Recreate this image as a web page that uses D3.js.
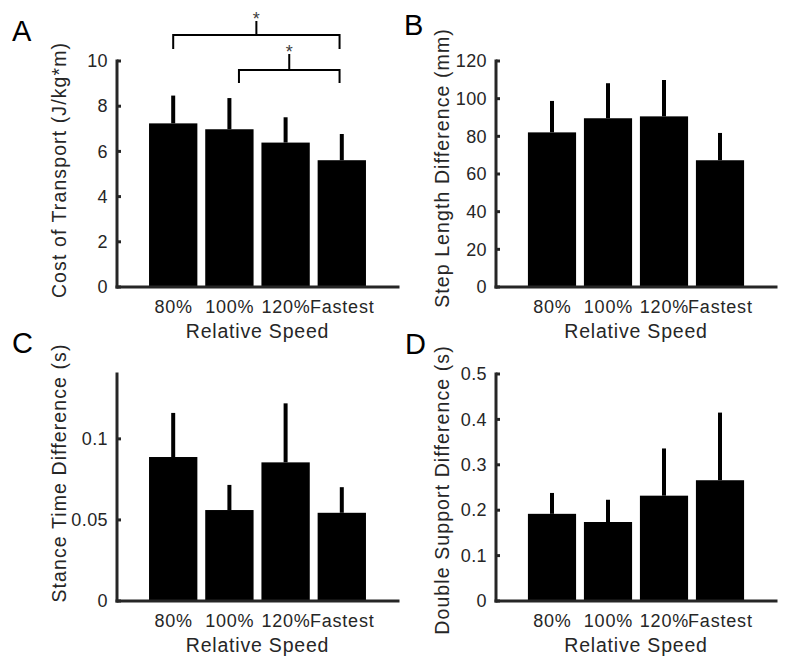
<!DOCTYPE html>
<html>
<head>
<meta charset="utf-8">
<script src="https://cdn.jsdelivr.net/npm/d3@7"></script>
<style>
  html, body { margin: 0; padding: 0; background: #fff; }
  svg { display: block; }
  text { font-family: Arial, "Liberation Sans", Helvetica, sans-serif; }
</style>
</head>
<body>
<div id="chart"></div>
<script>
// ---------------- DATA ----------------
const categories = ["80%", "100%", "120%", "Fastest"];
const xAxisLabel = "Relative Speed";

const costMean = [7.24, 6.98, 6.39, 5.61];
const costErr  = [1.23, 1.38, 1.12, 1.16];
const costTicks = [0, 2, 4, 6, 8, 10];

const stepMean = [82.1, 89.6, 90.6, 67.3];
const stepErr  = [16.7, 18.6, 19.3, 14.5];
const stepTicks = [0, 20, 40, 60, 80, 100, 120];

const stanceMean = [0.0888, 0.0561, 0.0855, 0.0544];
const stanceErr  = [0.0272, 0.0155, 0.0364, 0.0158];
const stanceTicks = [0, 0.05, 0.1];

const dsMean = [0.192, 0.174, 0.232, 0.266];
const dsErr  = [0.046, 0.049, 0.104, 0.149];
const dsTicks = [0, 0.1, 0.2, 0.3, 0.4, 0.5];

const panelLetters = ["A", "B", "C", "D"];
const yLabels = ["Cost of Transport (J/kg*m)", "Step Length Difference (mm)",
                 "Stance Time Difference (s)", "Double Support Difference (s)"];
const yMaxes = [10, 120, 0.14, 0.5];

// significance brackets for panel A (x in bar-position units, y in data units)
const sigX1 = [1.0, 2.17];
const sigX2 = [3.96, 3.96];
const sigY  = [11.15, 9.6];
const sigLeg = [10.53, 9.03];
const sigTop = [11.77, 10.31];
const sigLabel = ["*", "*"];

// ---------------- LAYOUT ----------------
const W = 800, H = 670;
const boxes = [
  { l: 117, r: 398, t: 61,  b: 287, letterX: 12,  letterY: 41,  labX: 59,  labY: 170 },
  { l: 496, r: 776, t: 61,  b: 287, letterX: 404, letterY: 35,  labX: 442, labY: 168 },
  { l: 117, r: 398, t: 374, b: 601, letterX: 12,  letterY: 353, labX: 59,  labY: 473 },
  { l: 496, r: 776, t: 374, b: 601, letterX: 405, letterY: 354, labX: 442, labY: 490 }
];
const means = [costMean, stepMean, stanceMean, dsMean];
const errs = [costErr, stepErr, stanceErr, dsErr];
const ticks = [costTicks, stepTicks, stanceTicks, dsTicks];

const axisColor = "#262626";
const barWidthFrac = 0.86;

const svg = d3.select("#chart").append("svg")
  .attr("width", W).attr("height", H);

boxes.forEach((bx, p) => {
  const g = svg.append("g");
  const x = d3.scaleLinear().domain([0, 5]).range([bx.l, bx.r]);
  const y = d3.scaleLinear().domain([0, yMaxes[p]]).range([bx.b, bx.t]);
  const bw = (x(1) - x(0)) * barWidthFrac;
  const data = categories.map((c, i) => ({ c, i: i + 1, m: means[p][i], e: errs[p][i] }));

  // bars
  g.selectAll("rect.bar").data(data).enter().append("rect")
    .attr("class", "bar")
    .attr("x", d => x(d.i) - bw / 2)
    .attr("width", bw)
    .attr("y", d => y(d.m))
    .attr("height", d => y(0) - y(d.m))
    .attr("fill", "#000");

  // error bars (upper only visible)
  g.selectAll("line.err").data(data).enter().append("line")
    .attr("class", "err")
    .attr("x1", d => x(d.i)).attr("x2", d => x(d.i))
    .attr("y1", d => y(d.m)).attr("y2", d => y(d.m + d.e))
    .attr("stroke", "#000").attr("stroke-width", 4);

  // y axis via d3.axisLeft with inward ticks
  const yAxis = d3.axisLeft(y).tickValues(ticks[p]).tickSize(0).tickPadding(9)
    .tickFormat(d => String(d));
  const ya = g.append("g").attr("transform", `translate(${bx.l},0)`).call(yAxis);
  ya.select(".domain").remove();
  ya.selectAll("text")
    .attr("fill", axisColor)
    .style("font-size", "18px")
    .style("letter-spacing", "0.4px");
  // inward tick marks
  g.selectAll("line.ytick").data(ticks[p]).enter().append("line")
    .attr("class", "ytick")
    .attr("x1", bx.l).attr("x2", bx.l + 4)
    .attr("y1", d => y(d)).attr("y2", d => y(d))
    .attr("stroke", axisColor).attr("stroke-width", 3);

  // axis lines
  g.append("line")
    .attr("x1", bx.l).attr("x2", bx.l)
    .attr("y1", y(yMaxes[p])).attr("y2", y(0))
    .attr("stroke", axisColor).attr("stroke-width", 3).attr("stroke-linecap", "square");
  g.append("line")
    .attr("x1", bx.l).attr("x2", bx.r)
    .attr("y1", y(0)).attr("y2", y(0))
    .attr("stroke", axisColor).attr("stroke-width", 3).attr("stroke-linecap", "square");

  // x tick labels
  g.selectAll("text.xt").data(data).enter().append("text")
    .attr("class", "xt")
    .attr("x", d => x(d.i) + 0.4)
    .attr("y", bx.b + 26)
    .attr("text-anchor", "middle")
    .attr("fill", axisColor)
    .style("font-size", "18px")
    .style("letter-spacing", "0.8px")
    .text(d => d.c);

  // x axis label
  g.append("text")
    .attr("x", (bx.l + bx.r) / 2)
    .attr("y", bx.b + 51)
    .attr("text-anchor", "middle")
    .attr("fill", axisColor)
    .style("font-size", "19.5px")
    .style("letter-spacing", "0.8px")
    .text(xAxisLabel);

  // y axis label
  g.append("text")
    .attr("transform", `translate(${bx.labX},${bx.labY}) rotate(-90)`)
    .attr("text-anchor", "middle")
    .attr("dominant-baseline", "central")
    .attr("fill", axisColor)
    .style("font-size", "19.5px")
    .style("letter-spacing", "1.1px")
    .text(yLabels[p]);

  // panel letter
  svg.append("text")
    .attr("x", bx.letterX).attr("y", bx.letterY)
    .attr("fill", "#000")
    .style("font-size", "29px")
    .text(panelLetters[p]);

  // significance brackets (panel A only)
  if (p === 0) {
    sigX1.forEach((x1, k) => {
      const path = d3.path();
      path.moveTo(x(x1), y(sigLeg[k]));
      path.lineTo(x(x1), y(sigY[k]));
      path.lineTo(x(sigX2[k]), y(sigY[k]));
      path.lineTo(x(sigX2[k]), y(sigLeg[k]));
      const mid = (x(x1) + x(sigX2[k])) / 2;
      path.moveTo(mid, y(sigY[k]));
      path.lineTo(mid, y(sigTop[k]));
      g.append("path").attr("d", path.toString())
        .attr("fill", "none").attr("stroke", "#000").attr("stroke-width", 2);
      g.append("text")
        .attr("x", mid).attr("y", y(sigTop[k]) + 4)
        .attr("text-anchor", "middle")
        .attr("fill", "#404040")
        .style("font-size", "18px")
        .text(sigLabel[k]);
    });
  }
});
</script>
</body>
</html>
